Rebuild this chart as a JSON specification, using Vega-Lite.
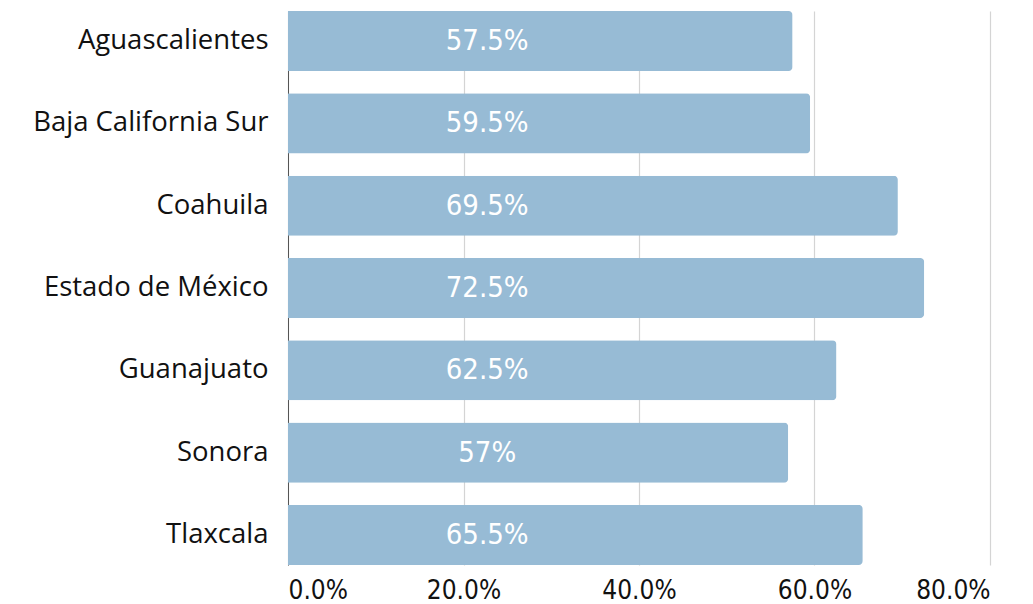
{
  "$schema": "https://vega.github.io/schema/vega-lite/v6.json",
  "autosize": "none",
  "width": 702,
  "height": 554,
  "padding": {"left": 288, "top": 11, "right": 43, "bottom": 39},
  "background": "white",
  "config": {"view": {"stroke": null}},
  "data": {"values": [
    {"estado": "Aguascalientes", "valor": 0.575},
    {"estado": "Baja California Sur", "valor": 0.595},
    {"estado": "Coahuila", "valor": 0.695},
    {"estado": "Estado de México", "valor": 0.725},
    {"estado": "Guanajuato", "valor": 0.625},
    {"estado": "Sonora", "valor": 0.57},
    {"estado": "Tlaxcala", "valor": 0.655}
  ]},
  "encoding": {
    "y": {
      "field": "estado", "type": "nominal", "sort": null,
      "scale": {"paddingInner": 0.27, "paddingOuter": 0},
      "axis": {"title": null, "ticks": false, "labelPadding": 20, "labelLimit": 300, "labelFont": "Open Sans", "labelFontSize": 27.5, "labelColor": "#111111", "domain": true, "domainColor": "#555555", "domainWidth": 1, "grid": false}
    }
  },
  "layer": [
    {
      "mark": {"type": "bar", "color": "#97BBD5", "cornerRadiusEnd": 4},
      "encoding": {
        "x": {
          "field": "valor", "type": "quantitative",
          "scale": {"domain": [0, 0.8], "nice": false},
          "axis": {"title": null, "format": ".1%", "values": [0, 0.2, 0.4, 0.6, 0.8], "ticks": false, "domain": false, "grid": true, "gridColor": "#d4d4d4", "gridWidth": 1.2, "labelPadding": 12, "labelFont": "DejaVu Sans Condensed, Roboto", "labelFontSize": 26, "labelColor": "#111111"}
        }
      }
    },
    {
      "mark": {"type": "text", "color": "white", "font": "DejaVu Sans Condensed, Roboto", "fontSize": 29, "align": "center", "baseline": "middle", "dy": 0},
      "encoding": {
        "x": {"datum": 0.227, "type": "quantitative"},
        "text": {"field": "valor", "type": "quantitative", "format": ".3~%"}
      }
    }
  ]
}
